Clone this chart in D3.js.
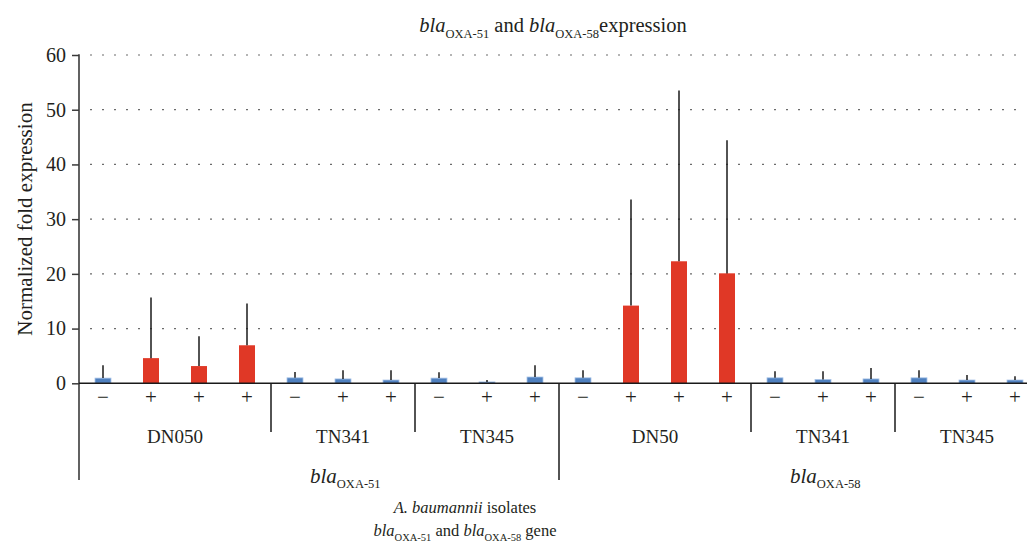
<!DOCTYPE html>
<html><head><meta charset="utf-8">
<script src="https://cdn.jsdelivr.net/npm/d3@7/dist/d3.min.js"></script>
<style>
body{margin:0;background:#fff}
svg{display:block}
svg text{font-family:"Liberation Serif","Tinos","Noto Serif","DejaVu Serif","FreeSerif","Times New Roman",Times,serif !important;fill:#231f20}
</style>
</head><body>
<svg id="chart" width="1027" height="543"></svg>
<script>
// ---- data ----
const isolates = ["DN050","TN341","TN345","DN50","TN341","TN345"];
const isolateOfBar = [0,0,0,0,1,1,1,2,2,2,3,3,3,3,4,4,4,5,5,5];
const genes = ["OXA-51","OXA-58"];
const geneOfIsolate = [0,0,0,1,1,1];
const treatment = ["−","+","+","+","−","+","+","−","+","+","−","+","+","+","−","+","+","−","+","+"];
const expression = [0.95,4.6,3.15,6.95,1.0,0.8,0.6,0.95,0.25,1.15,1.0,14.2,22.3,20.1,1.0,0.7,0.8,1.0,0.6,0.6];
const errorUpper = [2.35,11.1,5.45,7.65,1.05,1.6,1.8,1.05,0.35,2.15,1.4,19.4,31.2,24.3,1.2,1.5,2.0,1.4,0.9,0.7];
const upregulated = [false,true,true,true,false,false,false,false,false,false,false,true,true,true,false,false,false,false,false,false];
const yTicks = [0,10,20,30,40,50,60];
const yTitle = "Normalized fold expression";
const xTitle = "A. baumannii";

// ---- layout ----
const svg = d3.select("#chart");
svg.append("rect").attr("width",1027).attr("height",543).attr("fill","#fff");
const bars = d3.range(expression.length);
const x = d3.scaleBand().domain(bars).range([79,1039]).paddingInner(2/3).paddingOuter(1/3);
const y = d3.scaleLinear().domain([0,60]).range([383.3,55]);
const color = d3.scaleOrdinal().domain([false,true]).range(["#4f80bf","#e03826"]);
const cx = i => x(i) + x.bandwidth()/2;
const gap = x.step() - x.bandwidth();

// gridlines
svg.append("g").selectAll("line").data(yTicks.filter(d=>d>0)).join("line")
  .attr("x1",90).attr("x2",1022).attr("y1",d=>y(d)).attr("y2",d=>y(d))
  .attr("stroke","#6b6b6b").attr("stroke-width",1.2).attr("stroke-dasharray","2 10");

// y axis
const yAxis = svg.append("g").attr("transform","translate(79,0)")
  .call(d3.axisLeft(y).tickValues(yTicks).tickSize(7).tickPadding(6).tickSizeOuter(0));
yAxis.attr("font-size",20);
yAxis.select(".domain").remove();
yAxis.selectAll(".tick line").attr("stroke","#3a3a3a").attr("stroke-width",1.5);
yAxis.selectAll(".tick text").attr("fill","#231f20");
svg.append("line").attr("x1",79).attr("x2",79).attr("y1",y(60)-0.7).attr("y2",480)
  .attr("stroke","#3a3a3a").attr("stroke-width",1.6);

// bars
svg.append("g").selectAll("rect").data(bars).join("rect")
  .attr("x",i=>x(i)).attr("width",x.bandwidth())
  .attr("y",i=>y(expression[i])).attr("height",i=>y(0)-y(expression[i]))
  .attr("fill",i=>color(upregulated[i]))
  .attr("stroke",i=>upregulated[i]?"none":"#a9c4e8").attr("stroke-width",0.8);

// error bars (upper)
svg.append("g").selectAll("line").data(bars).join("line")
  .attr("x1",cx).attr("x2",cx)
  .attr("y1",i=>y(expression[i])).attr("y2",i=>y(expression[i]+errorUpper[i]))
  .attr("stroke","#1a1a1a").attr("stroke-width",1.5);

// x baseline
svg.append("line").attr("x1",79).attr("x2",1027).attr("y1",y(0)).attr("y2",y(0))
  .attr("stroke","#1a1a1a").attr("stroke-width",1.6);

// treatment labels
svg.append("g").selectAll("text").data(bars).join("text")
  .attr("x",cx).attr("y",404).attr("text-anchor","middle").attr("font-size",21)
  .text(i=>treatment[i]);

// isolate separators and labels
const isoIdx = d3.range(isolates.length);
const firstBar = k => isolateOfBar.indexOf(k);
const lastBar = k => isolateOfBar.lastIndexOf(k);
svg.append("g").selectAll("line").data(isoIdx.filter(k=>k>0)).join("line")
  .attr("x1",k=>x(firstBar(k))-gap/2).attr("x2",k=>x(firstBar(k))-gap/2)
  .attr("y1",y(0)).attr("y2",k=>geneOfIsolate[k]!==geneOfIsolate[k-1]?480:432)
  .attr("stroke","#1a1a1a").attr("stroke-width",1.5);
svg.append("g").selectAll("text").data(isoIdx).join("text")
  .attr("x",k=>(cx(firstBar(k))+cx(lastBar(k)))/2).attr("y",443)
  .attr("text-anchor","middle").attr("font-size",19)
  .text(k=>isolates[k]);

// rich text helper
function rich(g, parts, subSize, subDy){
  parts.forEach(([t,s])=>{
    const ts = g.append("tspan").text(t);
    if(s==="i") ts.attr("font-style","italic");
    if(s==="s") ts.attr("font-size",subSize).attr("dy",subDy);
    if(s==="u") ts.attr("dy",-subDy);
  });
  return g;
}

// gene labels
const geneCenter = gi => {
  const b = bars.filter(i=>geneOfIsolate[isolateOfBar[i]]===gi);
  return (cx(b[0])+cx(b[b.length-1]))/2;
};
genes.forEach((gname,gi)=>{
  const t = svg.append("text").attr("x",geneCenter(gi)-9).attr("y",483).attr("font-size",21);
  rich(t,[["bla","i"],[gname,"s"]],12.5,5);
});

// title
const title = svg.append("text").attr("x",553).attr("y",32).attr("text-anchor","middle").attr("font-size",20.5);
rich(title,[["bla","i"],[genes[0],"s"],[" and ","u"],["bla","i"],[genes[1],"s"],["expression","u"]],12.5,6);

// x title
const xt1 = svg.append("text").attr("x",465).attr("y",513).attr("text-anchor","middle").attr("font-size",16.5);
rich(xt1,[[xTitle,"i"],[" isolates",""]],11,5);
const xt2 = svg.append("text").attr("x",465).attr("y",536).attr("text-anchor","middle").attr("font-size",16.5);
rich(xt2,[["bla","i"],[genes[0],"s"],[" and ","u"],["bla","i"],[genes[1],"s"],[" gene","u"]],10.5,5);

// y title
svg.append("text").attr("transform","translate(32,219) rotate(-90)")
  .attr("text-anchor","middle").attr("font-size",21).text(yTitle);
</script>
</body></html>
